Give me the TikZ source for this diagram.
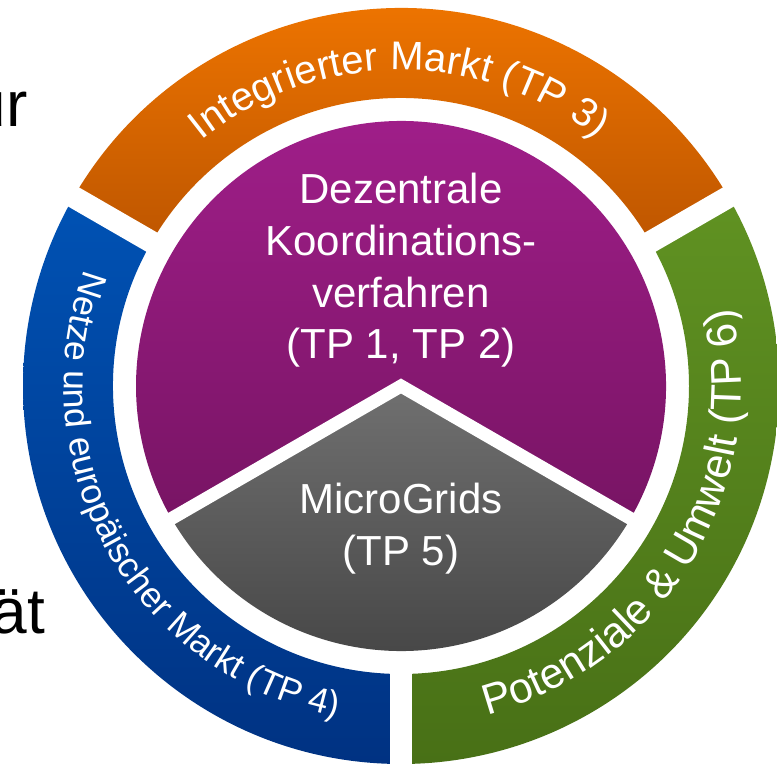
\documentclass[tikz,border=0pt]{standalone}
\usepackage{fontspec}
\setmainfont{Liberation Sans}
\font\ringO="Liberation Sans" at 40pt
\font\ringB="Liberation Sans" at 35.5pt
\font\ringG="Liberation Sans" at 42.8pt
\definecolor{oTop}{RGB}{247,122,0}
\definecolor{oBot}{RGB}{190,86,0}
\definecolor{bTop}{RGB}{0,82,180}
\definecolor{bBot}{RGB}{0,50,130}
\definecolor{gTop}{RGB}{96,146,34}
\definecolor{gBot}{RGB}{72,112,22}
\definecolor{pTop}{RGB}{163,31,140}
\definecolor{pBot}{RGB}{120,20,100}
\definecolor{kTop}{RGB}{112,112,112}
\definecolor{kBot}{RGB}{66,66,66}
\tikzset{
  bigtxt/.style={font=\fontsize{64}{64}\selectfont, text=black, inner sep=0pt, anchor=base east},
  innertxt/.style={font=\fontsize{42}{42}\selectfont, text=white, inner sep=0pt, anchor=base},
  ringchar/.style={text=white, inner sep=0pt, anchor=base},
  gapline/.style={draw=white, line width=22pt}
}
\newdimen\arcW
\newdimen\chW
\newdimen\cumW
% #1 name prefix, #2 font, #3 baseline radius, #4 centre angle, #5 sign (-1 clockwise, +1 counter-clockwise), #6 characters
\newcommand\arctext[6]{%
  \global\arcW=0pt
  \foreach \ch in {#6}{\setbox0=\hbox{#2\ch}\global\advance\arcW by \wd0}%
  \global\cumW=0pt
  \foreach \ch [count=\i] in {#6}{%
    \setbox0=\hbox{#2\ch}\chW=\wd0
    \pgfmathsetmacro\ang{#4 + #5*(\the\cumW + 0.5*\the\chW - 0.5*\the\arcW)/#3*180/pi}%
    \pgfmathsetmacro\rot{\ang + #5*90}%
    \node[ringchar, font=#2, rotate=\rot] (#1\i) at (\ang:#3) {\ch};
    \global\advance\cumW by \chW
  }%
}
\begin{document}
\begin{tikzpicture}[x=1pt,y=1pt]
\useasboundingbox (0,-765) rectangle (777,0);
\clip (0,-765) rectangle (777,0);
\node[bigtxt] (ur) at (28,-127) {ur};
\node[bigtxt] (aet) at (45,-633) {ät};
\begin{scope}[shift={(401,-386)}]
  % outer ring segments
  \shade[top color=oTop, bottom color=oBot] (30:288) arc[start angle=30, end angle=150, radius=288] -- (150:378) arc[start angle=150, end angle=30, radius=378] -- cycle;
  \shade[top color=bTop, bottom color=bBot] (150:288) arc[start angle=150, end angle=270, radius=288] -- (270:378) arc[start angle=270, end angle=150, radius=378] -- cycle;
  \shade[top color=gTop, bottom color=gBot] (270:288) arc[start angle=270, end angle=390, radius=288] -- (390:378) arc[start angle=390, end angle=270, radius=378] -- cycle;
  \foreach \a in {30,150,270} \path[gapline] (\a:270) -- (\a:400);
  % inner disc
  \shade[top color=pTop, bottom color=pBot] (0,0) -- (-30:265) arc[start angle=-30, end angle=210, radius=265] -- cycle;
  \shade[top color=kTop, bottom color=kBot] (0,0) -- (210:265) arc[start angle=210, end angle=330, radius=265] -- cycle;
  \draw[white, line width=13pt, line join=miter] (210:275) -- (0,0) -- (330:275);
  % ring texts
  \arctext{o}{\ringO}{316}{90.35}{-1}{I,n,t,e,g,r,i,e,r,t,e,r,\ ,M,a,r,k,t,\ ,{(},T,P,\ ,3,{)}}
  \arctext{b}{\ringB}{337}{209.5}{1}{N,e,t,z,e,\ ,u,n,d,\ ,e,u,r,o,p,ä,i,s,c,h,e,r,\ ,M,a,r,k,t,\ ,{(},T,P,\ ,4,{)}}
  \arctext{g}{\ringG}{340}{329}{1}{P,o,t,e,n,z,i,a,l,e,\ ,\&,\ ,U,m,w,e,l,t,\ ,{(},T,P,\ ,6,{)}}
\end{scope}
% inner texts
\node[innertxt] (d1) at (401,-204) {Dezentrale};
\node[innertxt] (d2) at (401,-255) {Koordinations-};
\node[innertxt] (d3) at (401,-307) {verfahren};
\node[innertxt] (d4) at (401,-358) {(TP 1, TP 2)};
\node[innertxt] (m1) at (401,-513) {MicroGrids};
\node[innertxt] (m2) at (401,-565) {(TP 5)};
\end{tikzpicture}
\end{document}
